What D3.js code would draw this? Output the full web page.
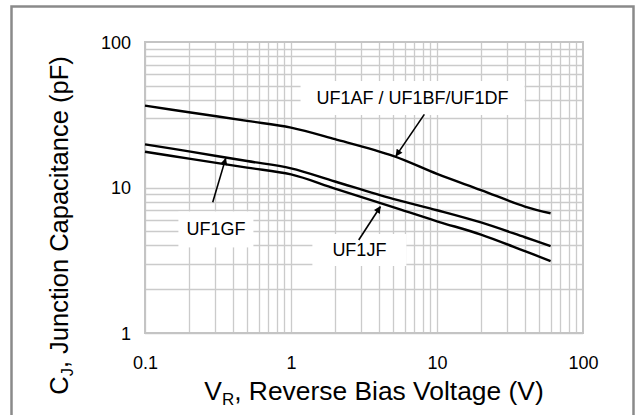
<!DOCTYPE html>
<html><head><meta charset="utf-8">
<script src="https://cdn.jsdelivr.net/npm/d3@7"></script>
<style>body{margin:0;background:#fff}svg{display:block}text{font-family:"Liberation Sans",Arial,sans-serif;fill:#000}</style>
</head><body>
<script>
const voltage = [0.1, 0.2, 0.5, 1, 2, 5, 10, 20, 40, 60];
const uf1af = [36.5, 32.9, 28.7, 25.8, 21.5, 16.5, 12.4, 9.6, 7.4, 6.65];
const uf1gf = [19.8, 17.7, 15.2, 13.55, 11.0, 8.36, 6.98, 5.75, 4.55, 3.96];
const uf1jf = [17.6, 15.8, 13.7, 12.3, 9.84, 7.33, 5.86, 4.75, 3.65, 3.12];
const xTickLabels = ["0.1", "1", "10", "100"];
const yTickLabels = ["1", "10", "100"];
const labelNames = ["UF1AF / UF1BF/UF1DF", "UF1GF", "UF1JF"];
const labelV = [6.8, 0.306, 2.94];
const labelC = [41.2, 5.15, 3.72];
const arrowFromV = [8.19, 0.291, 2.91];
const arrowFromC = [31.8, 7.91, 4.36];
const arrowToV = [5.24, 0.357, 4.09];
const arrowToC = [16.5, 15.85, 7.38];

const W = 637, H = 415;
const m = {l:145, t:42, r:583, b:333};
const svg = d3.select("body").append("svg").attr("width", W).attr("height", H);

// outer frame
svg.append("rect").attr("x",11.5).attr("y",6.5).attr("width",622).attr("height",420)
  .attr("fill","none").attr("stroke","#8a8a8a").attr("stroke-width",2.5);

const x = d3.scaleLog().domain([0.1,100]).range([m.l,m.r]);
const y = d3.scaleLog().domain([1,100]).range([m.b,m.t]);

const grid = svg.append("g");
const xg = [], yg = [];
for (let d=0.1; d<100; d*=10) for (let k=1;k<10;k++) xg.push(+(d*k).toPrecision(3));
for (let d=1; d<100; d*=10) for (let k=1;k<10;k++) yg.push(+(d*k).toPrecision(3));
grid.selectAll("line.v").data(xg).join("line").attr("class","v")
  .attr("x1",d=>Math.round(x(d))+0.5).attr("x2",d=>Math.round(x(d))+0.5)
  .attr("y1",m.t).attr("y2",m.b).attr("stroke","#cbcbcb").attr("stroke-width",1.3);
grid.selectAll("line.h").data(yg).join("line").attr("class","h")
  .attr("y1",d=>Math.round(y(d))+0.5).attr("y2",d=>Math.round(y(d))+0.5)
  .attr("x1",m.l).attr("x2",m.r).attr("stroke","#cbcbcb").attr("stroke-width",1.3);
svg.append("rect").attr("x",m.l).attr("y",m.t).attr("width",m.r-m.l).attr("height",m.b-m.t)
  .attr("fill","none").attr("stroke","#c4c4c4").attr("stroke-width",2);

// axes
const xAxis = d3.axisBottom(x).tickValues([0.1,1,10,100]).tickFormat((d,i)=>xTickLabels[i]).tickSize(0).tickPadding(0);
const yAxis = d3.axisLeft(y).tickValues([1,10,100]).tickFormat((d,i)=>yTickLabels[i]).tickSize(0).tickPadding(0);
const gx = svg.append("g").attr("transform",`translate(0,${m.b+35.5})`).call(xAxis);
const gy = svg.append("g").attr("transform",`translate(${m.l-14},0)`).call(yAxis);
[gx,gy].forEach(g=>{g.select(".domain").remove();
  g.selectAll("text").attr("font-size",18).attr("font-family","Liberation Sans, Arial").attr("fill","#000");});
gx.selectAll("text").attr("dy",0).attr("y",0);
gy.selectAll("text").attr("dy","0.35em");

// curves
const series = [uf1af, uf1gf, uf1jf];
const line = d3.line().x((d,i)=>x(voltage[i])).y(d=>y(d)).curve(d3.curveCatmullRom.alpha(0.5));
svg.append("g").selectAll("path").data(series).join("path")
  .attr("d", line).attr("fill","none").attr("stroke","#000").attr("stroke-width",2.4);

// annotations
svg.append("defs").append("marker").attr("id","ah").attr("viewBox","0 0 10 10")
  .attr("refX",9).attr("refY",5).attr("markerWidth",8).attr("markerHeight",7)
  .attr("markerUnits","userSpaceOnUse").attr("orient","auto")
  .append("path").attr("d","M0,0L10,5L0,10z").attr("fill","#000");
const ann = svg.append("g");
const padX = [16, 8, 20], padY = [7, 8, 6];
labelNames.forEach((name,i)=>{
  const g = ann.append("g");
  const r = g.append("rect").attr("fill","#fff");
  const t = g.append("text").attr("x",x(labelV[i])).attr("y",y(labelC[i])).attr("text-anchor","middle")
    .attr("dominant-baseline","central").attr("font-size",18).text(name);
  const bb = t.node().getBBox();
  r.attr("x",bb.x-padX[i]).attr("y",bb.y-padY[i]).attr("width",bb.width+2*padX[i]).attr("height",bb.height+2*padY[i]);
  ann.append("line").attr("x1",x(arrowFromV[i])).attr("y1",y(arrowFromC[i]))
    .attr("x2",x(arrowToV[i])).attr("y2",y(arrowToC[i])).attr("stroke","#000").attr("stroke-width",1.6)
    .attr("marker-end","url(#ah)");
});

// axis titles
const xt = svg.append("text").attr("x",(m.l+m.r)/2+10).attr("y",400).attr("text-anchor","middle").attr("font-size",26.4);
xt.append("tspan").text("V");
xt.append("tspan").attr("font-size",17).attr("dy",5).text("R");
xt.append("tspan").attr("dy",-5).text(", Reverse Bias Voltage (V)");
const yt = svg.append("text").attr("transform",`translate(68,${(m.t+m.b)/2+38}) rotate(-90)`).attr("text-anchor","middle").attr("font-size",25.5);
yt.append("tspan").text("C");
yt.append("tspan").attr("font-size",16.5).attr("dy",5).text("J");
yt.append("tspan").attr("dy",-5).text(", Junction Capacitance (pF)");
</script>
</body></html>
